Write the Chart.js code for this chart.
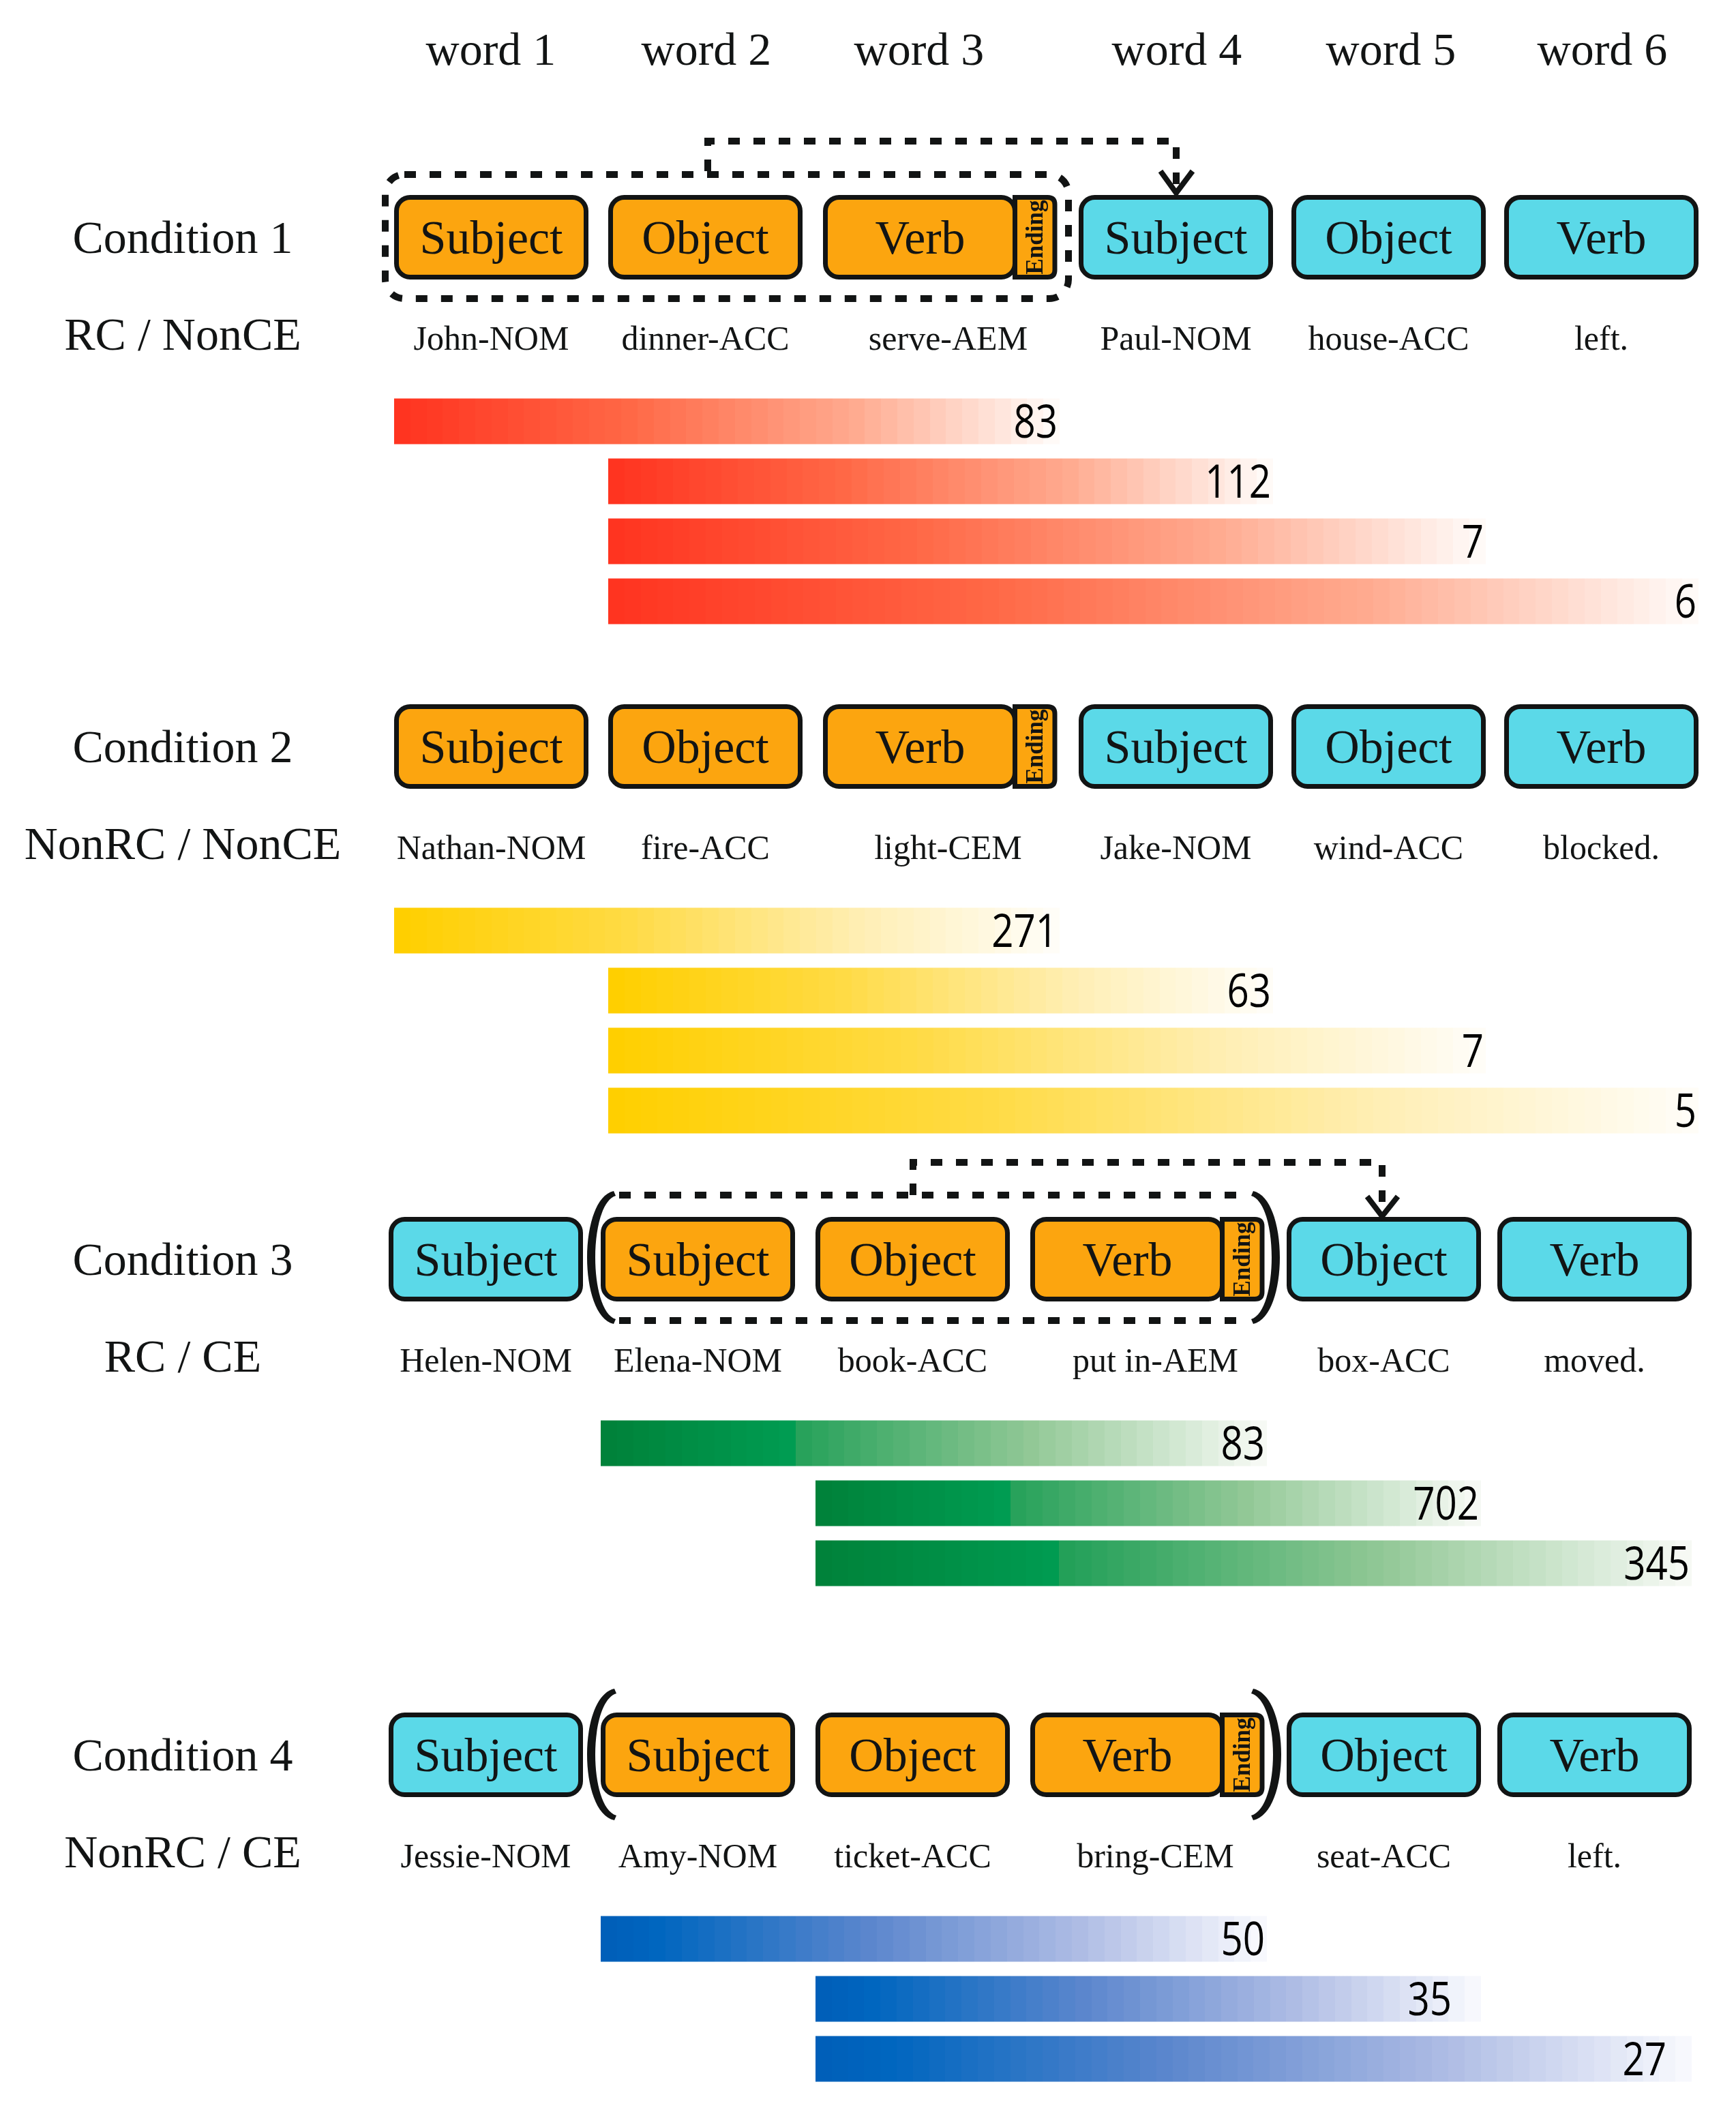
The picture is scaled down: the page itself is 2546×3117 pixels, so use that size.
<!DOCTYPE html>
<html>
<head>
<meta charset="utf-8">
<script src="https://cdn.jsdelivr.net/npm/chart.js@4.4.1/dist/chart.umd.min.js"></script>
<style>
html, body { margin: 0; padding: 0; background: #fff; }
#page { position: relative; width: 2546px; height: 3117px; overflow: hidden; background: #fff; }
#page canvas { position: absolute; left: 0; }
#deco { position: absolute; left: 0; top: 0; }
</style>
</head>
<body>
<div id="page">
  <canvas id="bars1"></canvas>
  <canvas id="bars2"></canvas>
  <canvas id="bars3"></canvas>
  <canvas id="bars4"></canvas>
  <svg id="deco" width="2546" height="3117" xmlns="http://www.w3.org/2000/svg"></svg>
</div>
<script>
// --- data ---
const wordLabels = ['word 1', 'word 2', 'word 3', 'word 4', 'word 5', 'word 6'];
const conditionNames = ['Condition 1', 'Condition 2', 'Condition 3', 'Condition 4'];
const conditionTypes = ['RC / NonCE', 'NonRC / NonCE', 'RC / CE', 'NonRC / CE'];

const roles1 = ['Subject', 'Object', 'Verb', 'Subject', 'Object', 'Verb'];
const roles2 = ['Subject', 'Object', 'Verb', 'Subject', 'Object', 'Verb'];
const roles3 = ['Subject', 'Subject', 'Object', 'Verb', 'Object', 'Verb'];
const roles4 = ['Subject', 'Subject', 'Object', 'Verb', 'Object', 'Verb'];

const gloss1 = ['John-NOM', 'dinner-ACC', 'serve-AEM', 'Paul-NOM', 'house-ACC', 'left.'];
const gloss2 = ['Nathan-NOM', 'fire-ACC', 'light-CEM', 'Jake-NOM', 'wind-ACC', 'blocked.'];
const gloss3 = ['Helen-NOM', 'Elena-NOM', 'book-ACC', 'put in-AEM', 'box-ACC', 'moved.'];
const gloss4 = ['Jessie-NOM', 'Amy-NOM', 'ticket-ACC', 'bring-CEM', 'seat-ACC', 'left.'];

// words of the embedded clause (the last one carries the ending)
const clause1 = [1, 2, 3];
const clause2 = [1, 2, 3];
const clause3 = [2, 3, 4];
const clause4 = [2, 3, 4];

// bars: from word .. to word, with the count written at the end
const spanFrom1 = [1, 2, 2, 2];
const spanTo1 = [3, 4, 5, 6];
const counts1 = [83, 112, 7, 6];

const spanFrom2 = [1, 2, 2, 2];
const spanTo2 = [3, 4, 5, 6];
const counts2 = [271, 63, 7, 5];

const spanFrom3 = [2, 3, 3];
const spanTo3 = [4, 5, 6];
const counts3 = [83, 702, 345];

const spanFrom4 = [2, 3, 3];
const spanTo4 = [4, 5, 6];
const counts4 = [50, 35, 27];

// --- layout ---
const colsA = [578, 892, 1207, 1582, 1894, 2206];
const colsB = [570, 881, 1196, 1511, 1887, 2196];
const headerX = [720, 1036, 1348, 1726, 2040, 2350];
const labelInset4 = [0, 40, 34];
const BOX_W = 285, BOX_H = 124, END_W = 62, ROW_H = 88;
const LABEL_X = 268;
const SERIF = "'Liberation Serif', 'Times New Roman', serif";
const INK = '#121414';
const ORANGE = '#fca50f';
const CYAN = '#5bd9e8';

const palettes = {
    red: [[0, '#ff3420'], [0.35, '#ff6846'], [0.7, '#ffab90'], [1, '#fffaf7']],
    yellow: [[0, '#ffcf00'], [0.35, '#ffdb45'], [0.7, '#ffeeb2'], [1, '#fffdf7']],
    green: [[0, '#00823a'], [0.28, '#009c52'], [0.281, '#22a058'], [0.65, '#92c896'], [1, '#f6f9f4']],
    blue: [[0, '#005fb9'], [0.08, '#0066bf'], [0.4, '#5b86cd'], [0.72, '#adbbe4'], [1, '#f7f8fd']]
};

const conditions = [
    { roles: roles1, gloss: gloss1, clause: clause1, from: spanFrom1, to: spanTo1, counts: counts1, cols: colsA, boxTop: 286, palette: 'red', canvas: 'bars1', inset: null },
    { roles: roles2, gloss: gloss2, clause: clause2, from: spanFrom2, to: spanTo2, counts: counts2, cols: colsA, boxTop: 1033, palette: 'yellow', canvas: 'bars2', inset: null },
    { roles: roles3, gloss: gloss3, clause: clause3, from: spanFrom3, to: spanTo3, counts: counts3, cols: colsB, boxTop: 1785, palette: 'green', canvas: 'bars3', inset: null },
    { roles: roles4, gloss: gloss4, clause: clause4, from: spanFrom4, to: spanTo4, counts: counts4, cols: colsB, boxTop: 2512, palette: 'blue', canvas: 'bars4', inset: labelInset4 }
];

// --- svg helpers ---
const NS = 'http://www.w3.org/2000/svg';
const svg = document.getElementById('deco');
function add(tag, attrs, text) {
    const el = document.createElementNS(NS, tag);
    for (const k in attrs) el.setAttribute(k, attrs[k]);
    if (text != null) el.textContent = text;
    svg.appendChild(el);
    return el;
}
function label(x, y, size, text, extra) {
    return add('text', Object.assign({ x: x, y: y, 'font-family': SERIF, 'font-size': size, 'text-anchor': 'middle', fill: INK }, extra || {}), text);
}
const dashStyle = { fill: 'none', stroke: INK, 'stroke-width': 10, 'stroke-dasharray': '17 20' };

// right edge of a word column, ending tab included
function colRight(c, i) {
    const endWord = c.clause[c.clause.length - 1];
    return c.cols[i] + BOX_W + (i + 1 === endWord ? END_W : 0);
}

// a thick round bracket, dir 1 = "(" , -1 = ")"
function paren(xOuter, xEnd, y0, y1, dir) {
    const h = y1 - y0;
    const cx = (4 * xOuter - xEnd) / 3;
    const t = 15 * dir;
    const d = `M ${xEnd} ${y0} C ${cx} ${y0 + 0.06 * h} ${cx} ${y1 - 0.06 * h} ${xEnd} ${y1}` +
        ` L ${xEnd + 3 * dir} ${y1 - 7} C ${cx + t} ${y1 - 0.1 * h} ${cx + t} ${y0 + 0.1 * h} ${xEnd + 3 * dir} ${y0 + 7} Z`;
    add('path', { d: d, fill: INK });
}

// headers
wordLabels.forEach((w, i) => label(headerX[i], 95, 68, w));

conditions.forEach((c, ci) => {
    const top = c.boxTop;
    const mid = top + BOX_H / 2;
    label(LABEL_X, mid + 23, 68, conditionNames[ci]);
    label(LABEL_X, top + 227, 68, conditionTypes[ci]);

    const endWord = c.clause[c.clause.length - 1];
    c.roles.forEach((r, i) => {
        const x = c.cols[i];
        const inClause = c.clause.includes(i + 1);
        add('rect', { x: x + 3.5, y: top + 3.5, width: BOX_W - 7, height: BOX_H - 7, rx: 20, fill: inClause ? ORANGE : CYAN, stroke: INK, 'stroke-width': 7 });
        label(x + BOX_W / 2, mid + 24, 70, r);
        let gx = x + BOX_W / 2;
        if (i + 1 === endWord) {
            const ex = x + BOX_W - 3.5;
            const ew = END_W;
            add('path', {
                d: `M ${ex} ${top + 3.5} L ${ex + ew - 14} ${top + 3.5} Q ${ex + ew - 3.5} ${top + 3.5} ${ex + ew - 3.5} ${top + 14} L ${ex + ew - 3.5} ${top + BOX_H - 14} Q ${ex + ew - 3.5} ${top + BOX_H - 3.5} ${ex + ew - 14} ${top + BOX_H - 3.5} L ${ex} ${top + BOX_H - 3.5} Z`,
                fill: ORANGE, stroke: INK, 'stroke-width': 7
            });
            const tx = ex + ew / 2 - 2;
            label(tx, mid, 35, 'Ending', { transform: `rotate(-90 ${tx} ${mid})`, 'dominant-baseline': 'central', 'font-weight': 'bold' });
            gx = (x + colRight(c, i)) / 2 + 10;
        }
        label(gx, top + 227, 50, c.gloss[i]);
    });
});

// condition 1: dashed clause outline and dashed arrow
add('rect', Object.assign({ x: 565, y: 256, width: 1002, height: 182, rx: 28 }, dashStyle));
add('polyline', Object.assign({ points: '1038,251 1038,207 1725,207 1725,276' }, dashStyle));
add('polyline', { points: '1702,251 1725,283 1749,251', fill: 'none', stroke: INK, 'stroke-width': 8 });

// condition 3: brackets, dashed edges and dashed arrow
paren(861, 900, 1747, 1942, 1);
paren(1877, 1838, 1747, 1942, -1);
add('line', Object.assign({ x1: 908, y1: 1753, x2: 1832, y2: 1753 }, dashStyle));
add('line', Object.assign({ x1: 908, y1: 1937, x2: 1832, y2: 1937 }, dashStyle));
add('polyline', Object.assign({ points: '1339,1753 1339,1705 2027,1705 2027,1776' }, dashStyle));
add('polyline', { points: '2005,1755 2027,1784 2050,1755', fill: 'none', stroke: INK, 'stroke-width': 8 });

// condition 4: brackets
paren(861, 901, 2477, 2670, 1);
paren(1879, 1838, 2477, 2670, -1);

// --- bars ---
function hexToRgb(h) {
    return [parseInt(h.slice(1, 3), 16), parseInt(h.slice(3, 5), 16), parseInt(h.slice(5, 7), 16)];
}
function colorAt(stops, t) {
    for (let i = 1; i < stops.length; i++) {
        if (t <= stops[i][0]) {
            const a = stops[i - 1], b = stops[i];
            const f = (t - a[0]) / (b[0] - a[0] || 1);
            const ca = hexToRgb(a[1]), cb = hexToRgb(b[1]);
            return `rgb(${ca.map((v, k) => Math.round(v + (cb[k] - v) * f)).join(',')})`;
        }
    }
    return stops[stops.length - 1][1];
}
// banded gradient, darkest at the left
function bandedFill(palette) {
    return function (ctx) {
        const chart = ctx.chart;
        const sx = chart.scales && chart.scales.x;
        const raw = ctx.raw;
        if (!sx || !chart.chartArea || !Array.isArray(raw)) return palettes[palette][0][1];
        const x0 = sx.getPixelForValue(raw[0]);
        const x1 = sx.getPixelForValue(raw[1]);
        if (!Number.isFinite(x0) || !Number.isFinite(x1) || x1 <= x0) return palettes[palette][0][1];
        const n = Math.max(12, Math.round((x1 - x0) / 24));
        const g = chart.ctx.createLinearGradient(x0, 0, x1, 0);
        for (let k = 0; k < n; k++) {
            const col = colorAt(palettes[palette], k / (n - 1));
            g.addColorStop(k / n, col);
            g.addColorStop((k + 1) / n, col);
        }
        return g;
    };
}

const countLabels = {
    id: 'countLabels',
    afterDatasetsDraw(chart, args, opts) {
        const c = chart.ctx;
        const meta = chart.getDatasetMeta(0);
        c.save();
        c.fillStyle = '#000';
        c.font = "68px 'Open Sans', 'Noto Sans', sans-serif";
        c.textAlign = 'right';
        c.textBaseline = 'alphabetic';
        meta.data.forEach((el, i) => {
            const inset = opts.inset ? opts.inset[i] : 0;
            c.save();
            c.translate(el.x - 3 - inset, el.y + 24);
            c.scale(0.83, 1);
            c.fillText(String(opts.counts[i]), 0, 0);
            c.restore();
        });
        c.restore();
    }
};

conditions.forEach(c => {
    const canvas = document.getElementById(c.canvas);
    canvas.width = 2546;
    canvas.height = c.counts.length * ROW_H;
    canvas.style.top = (c.boxTop + 288) + 'px';
    const spans = c.from.map((f, i) => [c.cols[f - 1], colRight(c, c.to[i] - 1)]);
    const rows = c.from.map((f, i) => `word ${f}–${c.to[i]}`);
    new Chart(canvas, {
        type: 'bar',
        data: {
            labels: rows,
            datasets: [{
                data: spans,
                backgroundColor: bandedFill(c.palette),
                borderWidth: 0,
                barPercentage: 0.76,
                categoryPercentage: 1
            }]
        },
        options: {
            indexAxis: 'y',
            responsive: false,
            maintainAspectRatio: false,
            animation: false,
            devicePixelRatio: 1,
            layout: { padding: 0 },
            plugins: {
                legend: { display: false },
                tooltip: { enabled: false },
                countLabels: { counts: c.counts, inset: c.inset }
            },
            scales: {
                x: { type: 'linear', min: 0, max: 2546, display: false },
                y: { display: false }
            }
        },
        plugins: [countLabels]
    });
});
</script>
</body>
</html>
